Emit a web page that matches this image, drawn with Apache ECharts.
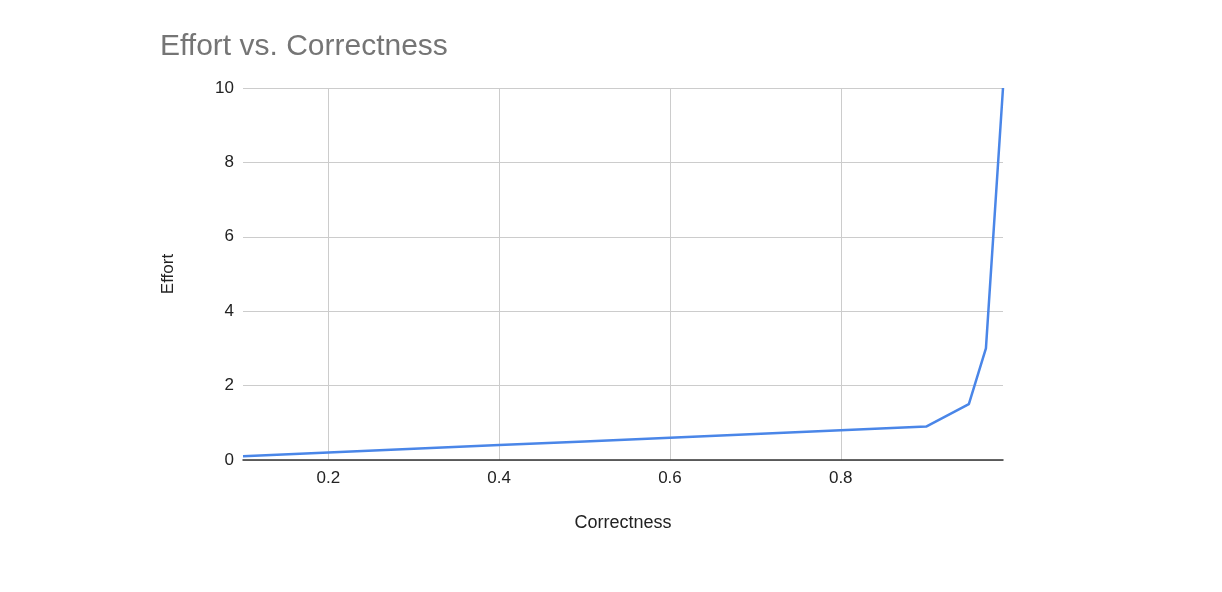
<!DOCTYPE html>
<html><head><meta charset="utf-8">
<script src="https://cdn.jsdelivr.net/npm/echarts@6/dist/echarts.min.js"></script>
<style>html,body{margin:0;padding:0;background:#fff}#c{width:1222px;height:592px}</style>
</head><body><div id="c"></div>
<script>
const correctness = [0.1, 0.2, 0.3, 0.4, 0.5, 0.6, 0.7, 0.8, 0.9, 0.95, 0.97, 0.99];
const effort = [0.1, 0.2, 0.3, 0.4, 0.5, 0.6, 0.7, 0.8, 0.9, 1.5, 3, 10];
const yTicks = [0, 2, 4, 6, 8, 10];

const chart = echarts.init(document.getElementById('c'));
const font = 'Liberation Sans, Arial, sans-serif';
chart.setOption({
  animation: false,
  title: {
    text: 'Effort vs. Correctness', left: 155, top: 27,
    textStyle: {fontFamily: font, fontSize: 30, fontWeight: 'normal', color: '#757575'}
  },
  grid: {left: 243, right: 219, top: 88, bottom: 132},
  xAxis: {
    type: 'value', min: 0.1, max: 0.99,
    name: 'Correctness', nameLocation: 'middle', nameGap: 54,
    nameTextStyle: {fontFamily: font, fontSize: 18, color: '#222'},
    axisLine: {show: true, onZero: false, lineStyle: {color: '#333', width: 1.5}},
    axisTick: {show: false},
    axisLabel: {fontFamily: font, fontSize: 17, color: '#222', margin: 10,
      showMinLabel: false, showMaxLabel: false},
    splitLine: {show: true, showMinLine: false, showMaxLine: false, lineStyle: {color: '#ccc'}}
  },
  yAxis: {
    type: 'value', min: yTicks[0], max: yTicks[yTicks.length - 1], interval: 2,
    name: 'Effort', nameLocation: 'middle', nameGap: 66,
    nameTextStyle: {fontFamily: font, fontSize: 17, color: '#222'},
    axisLine: {show: false}, axisTick: {show: false},
    axisLabel: {fontFamily: font, fontSize: 17, color: '#222', margin: 9},
    splitLine: {lineStyle: {color: '#ccc'}}
  },
  series: [{
    type: 'line', data: correctness.map((c, i) => [c, effort[i]]),
    showSymbol: false, lineStyle: {color: '#4a86e8', width: 2.5},
    itemStyle: {color: '#4a86e8'}
  }]
});
</script></body></html>
